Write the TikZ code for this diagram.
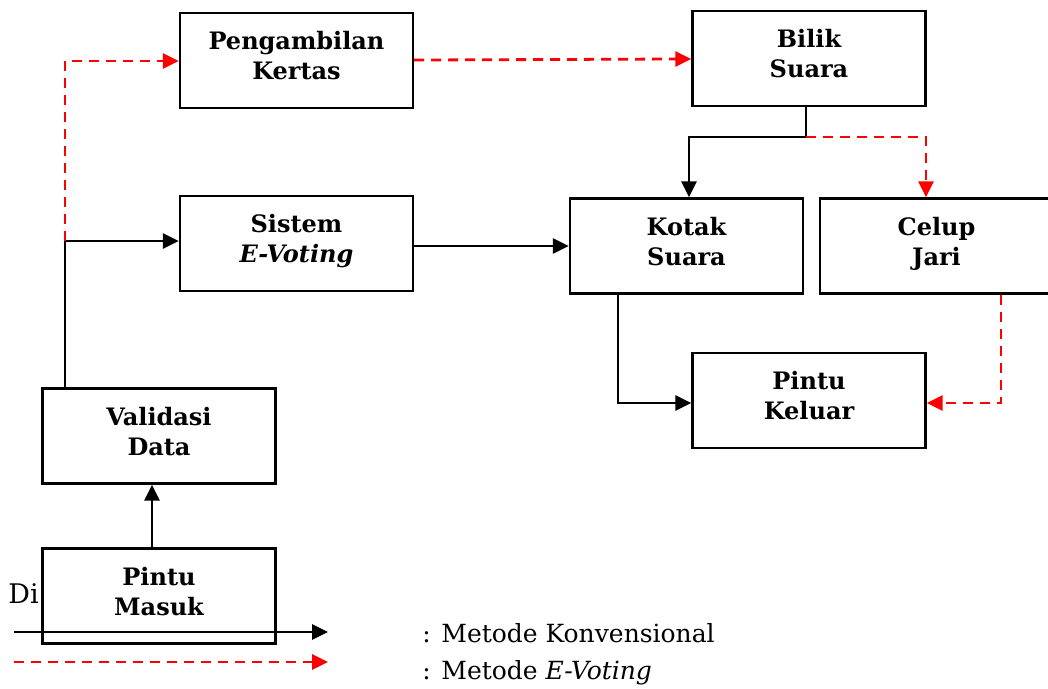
\documentclass[tikz,border=0pt]{standalone}
\usepackage{fontspec}
\setmainfont{DejaVu Serif}
\usetikzlibrary{arrows.meta}
\tikzset{
	kotak/.style={draw,line width=1.2pt,fill=white,minimum width=116.5pt,minimum height=47.5pt,inner sep=0pt,text depth=5pt,align=center,font=\fontsize{12}{15}\selectfont\bfseries},
	konv/.style={draw,line width=1.4pt,-{Triangle[length=8pt,width=7.5pt]}},
	evot/.style={draw,red,line width=1.4pt,dash pattern=on 5pt off 3.5pt,-{Triangle[length=8pt,width=7.5pt]}},
	garis/.style={draw,line width=1.4pt},
	ket/.style={anchor=west,inner sep=0pt,font=\fontsize{12.5}{15}\selectfont}
}
\begin{document}
\begin{tikzpicture}[x=0.5pt,y=-0.5pt]
	\useasboundingbox (0,0) rectangle (1048,689);
	\node[anchor=base west,inner sep=0pt,font=\fontsize{13.5}{16}\selectfont] (di) at (8,603) {Di};
	\node[kotak] (pengambilan) at (296.5,60.5) {Pengambilan\\Kertas};
	\node[kotak] (bilik) at (809,58.5) {Bilik\\Suara};
	\node[kotak] (sistem) at (296.5,243.5) {Sistem\\\textit{E-Voting}};
	\node[kotak] (kotaksuara) at (686.5,246) {Kotak\\Suara};
	\node[kotak] (celup) at (936.5,246) {Celup\\Jari};
	\node[kotak] (keluar) at (809,400.5) {Pintu\\Keluar};
	\node[kotak] (validasi) at (159,436) {Validasi\\Data};
	\node[kotak] (masuk) at (159,596) {Pintu\\Masuk};
	\coordinate (cabang) at (65,241);
	\coordinate (atas) at (65,61);
	\coordinate (bagi) at (806,137);
	\coordinate (kejari) at (926,137);
	\coordinate (kesuara) at (689,137);
	\coordinate (belok) at (618,403);
	\coordinate (belokjari) at (1001,403);
	\coordinate (naik) at (152,0);
	\draw[garis] (validasi.north -| cabang) -- (cabang);
	\draw[konv] (cabang) -- (sistem.west |- cabang);
	\draw[evot] (cabang) -- (atas) -- (pengambilan.west |- atas);
	\draw[evot] (pengambilan) -- (bilik);
	\draw[konv] (sistem.east |- kotaksuara) -- (kotaksuara);
	\draw[garis] (bilik.south -| bagi) -- (bagi);
	\draw[konv] (bagi) -- (kesuara) -- (kotaksuara.north -| kesuara);
	\draw[evot] (bagi) -- (kejari) -- (celup.north -| kejari);
	\draw[konv] (kotaksuara.south -| belok) -- (belok) -- (keluar.west |- belok);
	\draw[evot] (celup.south -| belokjari) -- (belokjari) -- (keluar.east |- belokjari);
	\draw[konv] (masuk.north -| naik) -- (validasi.south -| naik);
	\coordinate (konvawal) at (14,632);
	\coordinate (konvakhir) at (328,632);
	\coordinate (evawal) at (14,662);
	\coordinate (evakhir) at (328,662);
	\draw[konv] (konvawal) -- (konvakhir);
	\draw[evot] (evawal) -- (evakhir);
	\node[ket] (ketkonv) at (422,633) {: Metode Konvensional};
	\node[ket] (ketev) at (422,673) {: Metode \textit{E-Voting}};
\end{tikzpicture}
\end{document}
